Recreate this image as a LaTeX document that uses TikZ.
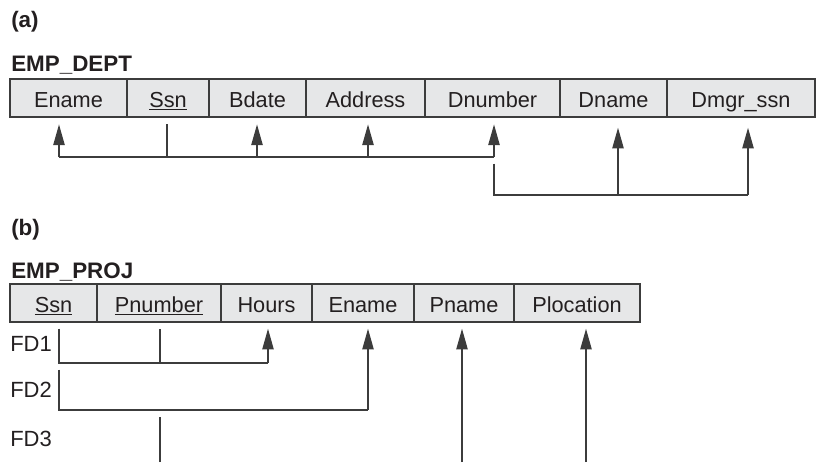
\documentclass[tikz,border=0pt]{standalone}
\usepackage{fontspec}
\setmainfont{Liberation Sans}
\usetikzlibrary{arrows.meta}
\definecolor{cellgray}{HTML}{E6E7E8}
\definecolor{ink}{HTML}{231F20}
\definecolor{rulegray}{HTML}{3C3C3C}

\begin{document}
\begin{tikzpicture}[x=0.75pt, y=-0.75pt,
        cell/.style={draw=rulegray, fill=cellgray, line width=1.1pt, inner sep=0pt,
            minimum height=28.5pt, text height=15pt, text depth=0.5pt, text=ink,
            font=\fontsize{16.3}{19}\selectfont},
        title/.style={anchor=base west, inner sep=0pt, text=ink, font=\fontsize{16.8}{20}\selectfont\bfseries},
        fdlabel/.style={anchor=base west, inner sep=0pt, text=ink, font=\fontsize{16.5}{19}\selectfont},
        bus/.style={draw=rulegray, line width=1pt},
        fd/.style={bus, -{Triangle[length=15.5pt, width=8.5pt]}}]
            \useasboundingbox (0,0) rectangle (816,462);
            \node[title] (la) at (11,27) {(a)};
            \node[title] (tdept) at (11,71) {EMP\_DEPT};
            \foreach \n/\l/\r/\t in {ename/10/127/Ename, ssn/127/209/\underline{Ssn},
                    bdate/209/306/Bdate, address/306/425/Address, dnumber/425/560/Dnumber,
                    dname/560/667/Dname, dmgr/667/815/Dmgr\_ssn}
                \node[cell, minimum width={(\r-\l)*0.75pt}] (\n) at ({(\l+\r)/2},98) {\t};
            \coordinate (a1) at (59,157);
            \coordinate (a2) at (167,157);
            \coordinate (a3) at (257,157);
            \coordinate (a4) at (368,157);
            \coordinate (a5) at (494,157);
            \draw[bus] (a1) -- (a5);
            \draw[bus, shorten >=5pt] (a2) -- (a2 |- ssn.south);
            \foreach \c/\n in {a1/ename, a3/bdate, a4/address, a5/dnumber}
                \draw[fd, shorten >=5pt] (\c) -- (\c |- \n.south);
            \coordinate (b1) at (494,195);
            \coordinate (b2) at (618,195);
            \coordinate (b3) at (748,195);
            \draw[bus] ([yshift=-5pt]a5) -- (b1) -- (b3);
            \draw[fd, shorten >=7.5pt] (b2) -- (b2 |- dname.south);
            \draw[fd, shorten >=7.5pt] (b3) -- (b3 |- dmgr.south);

            \node[title] (lb) at (11,235) {(b)};
            \node[title] (tproj) at (11,278) {EMP\_PROJ};
            \foreach \n/\l/\r/\t in {pssn/10/97/\underline{Ssn}, pnumber/97/221/\underline{Pnumber},
                    hours/221/312/Hours, pename/312/414/Ename, pname/414/514/Pname,
                    ploc/514/640/Plocation}
                \node[cell, minimum width={(\r-\l)*0.75pt}] (\n) at ({(\l+\r)/2},303) {\t};
            \node[fdlabel] (fd1) at (10,351) {FD1};
            \node[fdlabel] (fd2) at (10,397) {FD2};
            \node[fdlabel] (fd3) at (10,446) {FD3};
            \coordinate (c1) at (59,363);
            \coordinate (c2) at (160,363);
            \coordinate (c3) at (268,363);
            \draw[bus] (pssn.south -| c1) ++(0,6) -- (c1) -- (c3);
            \draw[bus, shorten >=4.5pt] (c2) -- (c2 |- pnumber.south);
            \draw[fd, shorten >=4.5pt] (c3) -- (c3 |- hours.south);
            \coordinate (d1) at (59,410);
            \coordinate (d2) at (368,410);
            \draw[bus] ([yshift=-5pt]c1) -- (d1) -- (d2);
            \draw[fd, shorten >=4.5pt] (d2) -- (d2 |- pename.south);
            \coordinate (e1) at (160,462);
            \coordinate (e2) at (462,462);
            \coordinate (e3) at (586,462);
            \draw[bus] (e1) -- +(0,-45);
            \draw[fd, shorten >=4.5pt] (e2) -- (e2 |- pname.south);
            \draw[fd, shorten >=4.5pt] (e3) -- (e3 |- ploc.south);
        \end{tikzpicture}
\end{document}
